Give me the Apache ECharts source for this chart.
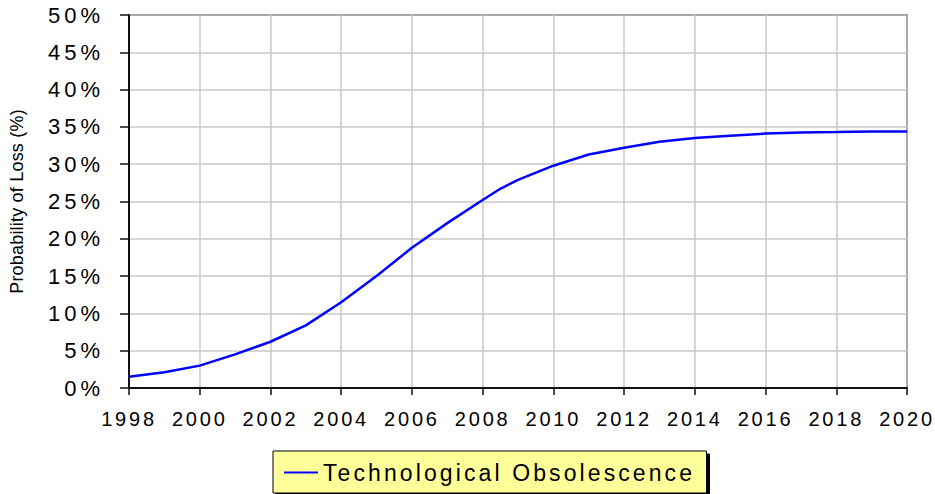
<!DOCTYPE html>
<html>
<head>
<meta charset="utf-8">
<script src="https://cdn.jsdelivr.net/npm/echarts@6/dist/echarts.min.js"></script>
<style>
  html, body { margin: 0; padding: 0; background: #fff; }
  #chart { width: 935px; height: 494px; }
</style>
</head>
<body>
<div id="chart"></div>
<script>
// Data
const years = [1998, 1999, 2000, 2001, 2002, 2003, 2004, 2005, 2006, 2007, 2008, 2008.5, 2009, 2010, 2011, 2012, 2013, 2014, 2015, 2016, 2017, 2018, 2019, 2020];
const obsolescence = [1.5, 2.1, 3.0, 4.5, 6.2, 8.4, 11.5, 15.0, 18.8, 22.1, 25.2, 26.7, 27.9, 29.8, 31.3, 32.2, 33.0, 33.5, 33.8, 34.1, 34.25, 34.3, 34.4, 34.4];
const seriesName = 'Technological Obsolescence';
const yAxisTitle = 'Probability of Loss (%)';
const xMin = 1998, xMax = 2020, xStep = 2;
const yMin = 0, yMax = 50, yStep = 5;

const chart = echarts.init(document.getElementById('chart'), null, { renderer: 'svg' });
const font = '"Liberation Sans", Arial, sans-serif';

chart.setOption({
  animation: false,
  backgroundColor: '#ffffff',
  grid: {
    left: 129, right: 28, top: 15, bottom: 106,
    containLabel: false, outerBoundsMode: 'none',
    show: true, borderColor: '#111', borderWidth: 1.5, backgroundColor: 'transparent'
  },
  legend: {
    left: 273, top: 451,
    padding: [10, 92, 9, 11],
    backgroundColor: '#ffff99',
    borderColor: '#000', borderWidth: 1,
    shadowColor: '#000', shadowBlur: 0, shadowOffsetX: 3, shadowOffsetY: 3,
    itemWidth: 34, itemHeight: 2,
    data: [{ name: seriesName, icon: 'rect' }],
    textStyle: { fontFamily: font, fontSize: 23, color: '#000' }
  },
  xAxis: {
    type: 'value', min: xMin, max: xMax, interval: xStep,
    axisLine: { show: true, lineStyle: { color: '#111', width: 2 } },
    axisTick: { show: true, length: 7, lineStyle: { color: '#111', width: 1.5 } },
    axisLabel: { fontFamily: font, fontSize: 20, color: '#000', margin: 21, formatter: v => String(v) },
    splitLine: { show: true, lineStyle: { color: '#c8c8c8', width: 1.5 } }
  },
  yAxis: {
    type: 'value', min: yMin, max: yMax, interval: yStep,
    name: yAxisTitle, nameLocation: 'middle', nameRotate: 90, nameGap: 103,
    nameTextStyle: { fontFamily: font, fontSize: 18, color: '#000' },
    axisLine: { show: true, lineStyle: { color: '#111', width: 2 } },
    axisTick: { show: true, length: 9, lineStyle: { color: '#111', width: 1.5 } },
    axisLabel: { fontFamily: font, fontSize: 22, color: '#000', margin: 25, formatter: '{value}%' },
    splitLine: { show: true, lineStyle: { color: '#c8c8c8', width: 1.5 } }
  },
  series: [{
    name: seriesName,
    type: 'line',
    data: years.map((y, i) => [y, obsolescence[i]]),
    symbol: 'none',
    lineStyle: { color: '#0000ff', width: 2.5 },
    itemStyle: { color: '#0000ff' }
  }]
});

// Letter spacing like the reference's widely tracked text
function applySpacing() {
  document.querySelectorAll('#chart svg text').forEach(t => {
    const s = t.textContent || '';
    let sp = null;
    if (s === seriesName) sp = '3.1px';
    else if (s === yAxisTitle) sp = '0.2px';
    else if (/%$/.test(s)) sp = '4px';
    else if (/^\d{4}$/.test(s)) sp = '2.8px';
    if (sp) t.style.letterSpacing = sp;
  });
}
chart.on('finished', applySpacing);
setTimeout(applySpacing, 50);
setTimeout(applySpacing, 300);
</script>
</body>
</html>
